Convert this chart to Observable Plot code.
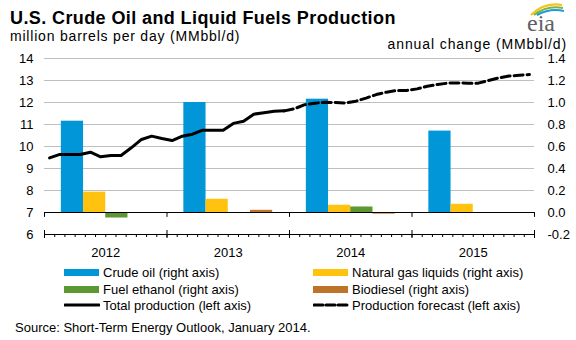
<!DOCTYPE html>
<html><head><meta charset="utf-8">
<script src="https://cdn.jsdelivr.net/npm/d3@7"></script>
<script src="https://cdn.jsdelivr.net/npm/@observablehq/plot@0.6"></script>
<style>
body{margin:0;background:#fff;font-family:Arial,"Liberation Sans",sans-serif;}
#wrap{position:relative;width:576px;height:340px;overflow:hidden;background:#fff;}
#chart{position:absolute;left:0;top:0;}
.t{position:absolute;white-space:nowrap;color:#000;line-height:1;}
.sw{position:absolute;}
</style></head><body><div id="wrap">
<div id="chart"></div>
<div class="t" style="left:10px;top:9px;font-weight:bold;font-size:18px;letter-spacing:0.4px">U.S. Crude Oil and Liquid Fuels Production</div>
<div class="t" style="left:10px;top:29px;font-size:14px;letter-spacing:0.8px">million barrels per day (MMbbl/d)</div>
<div class="t" style="right:9px;top:37px;font-size:14px;letter-spacing:0.9px">annual change (MMbbl/d)</div>
<svg style="position:absolute;left:522px;top:0px" width="54" height="36" viewBox="0 0 54 36">
  <path d="M9 15 Q22 2 40 5" fill="none" stroke="#F4C51E" stroke-width="2.2"/>
  <path d="M12 15 Q25 5 41 8" fill="none" stroke="#7CB342" stroke-width="2"/>
  <path d="M15 15 Q28 8 42 11" fill="none" stroke="#1E9BD7" stroke-width="2"/>
  <text x="5" y="31" font-family="'Liberation Serif','DejaVu Serif',serif" font-size="24" fill="#5F6062">eia</text>
</svg>
<div id="legend"></div>
<div class="t" style="left:15px;top:321px;font-size:13px">Source: Short-Term Energy Outlook, January 2014.</div>
</div>
<script>
// ---- data ----
const years = ["2012", "2013", "2014", "2015"];
const seriesNames = ["Crude oil", "Natural gas liquids", "Fuel ethanol", "Biodiesel"];
const seriesColors = ["#0096D7", "#FFC20E", "#5D9732", "#BD732A"];
// annual change, MMbbl/d (right axis)
const crudeOil = [0.83, 1.00, 1.03, 0.74];
const naturalGasLiquids = [0.185, 0.12, 0.066, 0.075];
const fuelEthanol = [-0.05, 0.0, 0.05, 0.0];
const biodiesel = [0.0, 0.02, -0.015, 0.0];
// monthly total production, MMbbl/d (left axis), Jan 2012 - Dec 2013
const totalProduction = [9.48, 9.64, 9.64, 9.64, 9.74, 9.53, 9.59, 9.59, 9.94, 10.32, 10.47, 10.36,
                         10.27, 10.47, 10.56, 10.74, 10.74, 10.74, 11.05, 11.15, 11.47, 11.53, 11.60, 11.62];
// forecast, Dec 2013 - Dec 2015
const productionForecast = [11.62,
  11.72, 11.90, 11.97, 12.01, 12.00, 11.98, 12.06, 12.20, 12.36, 12.47, 12.55, 12.55,
  12.62, 12.74, 12.82, 12.88, 12.89, 12.88, 12.88, 13.00, 13.12, 13.20, 13.24, 13.27];
const leftTicks = [6, 7, 8, 9, 10, 11, 12, 13, 14];

// ---- derived tables ----
const toLeft = v => 7 + 5 * v; // right axis (annual change) -> left axis units
const seriesValues = [crudeOil, naturalGasLiquids, fuelEthanol, biodiesel];
const barW = 12 * 0.725 / 4;
const bars = [];
years.forEach((yr, i) => seriesValues.forEach((vals, k) => {
  const x1 = i * 12 + 6 - 2 * barW + k * barW;
  bars.push({year: yr, series: seriesNames[k], value: vals[i], x1, x2: x1 + barW, color: seriesColors[k]});
}));
const totalData = totalProduction.map((v, i) => ({m: i + 0.5, v}));
const forecastData = productionForecast.map((v, i) => ({m: 23 + i + 0.5, v}));
const monthBounds = d3.range(0, 49);
const yearBounds = years.map((y, i) => i * 12).concat([48]);
const yearCenters = years.map((y, i) => i * 12 + 6);
const tickShape = {draw(ctx, l) { ctx.moveTo(0, 0); ctx.lineTo(0, -l); }};

const chart = Plot.plot({
  width: 576, height: 340,
  marginTop: 58, marginBottom: 106, marginLeft: 44, marginRight: 42,
  style: {fontFamily: "Arial, 'Liberation Sans', sans-serif", fontSize: "13px", color: "#000", background: "transparent", overflow: "visible"},
  x: {domain: [0, 48]},
  y: {domain: [6, 14]},
  marks: [
    Plot.ruleY(leftTicks.filter(d => d > 7), {stroke: "#BFBFBF", strokeWidth: 1}),
    Plot.rectY(bars, {x1: "x1", x2: "x2", y1: 7, y2: d => toLeft(d.value), fill: "color"}),
    Plot.ruleY([7, 6], {stroke: "#000", strokeWidth: 1}),
    Plot.vector(yearBounds, {x: d => d, y: 7, length: 4, rotate: 180, anchor: "start", shape: tickShape, stroke: "#000", strokeWidth: 1}),
    Plot.axisY({anchor: "left", ticks: leftTicks, tickSize: 0, tickPadding: 11, tickFormat: d => String(d), label: null}),
    Plot.axisY({anchor: "right", ticks: leftTicks, tickSize: 0, tickPadding: 13, tickFormat: d => ((d - 7) / 5).toFixed(1), label: null, textAnchor: "start"}),
    Plot.axisX({anchor: "bottom", ticks: monthBounds, tickSize: 3, tickFormat: () => "", label: null}),
    Plot.axisX({anchor: "bottom", ticks: yearBounds, tickSize: 8, dy: -4, tickFormat: () => "", label: null}),
    Plot.axisX({anchor: "bottom", ticks: yearCenters, tickSize: 0, tickPadding: 13, tickFormat: d => years[(d - 6) / 12], label: null}),
    Plot.line(totalData, {x: "m", y: "v", stroke: "#000", strokeWidth: 3}),
    Plot.line(forecastData, {x: "m", y: "v", stroke: "#000", strokeWidth: 3, strokeDasharray: "9,4"})
  ]
});
document.getElementById("chart").appendChild(chart);

// ---- legend ----
const legendItems = [
  {label: "Crude oil (right axis)", kind: "rect", color: seriesColors[0], col: 0, row: 0},
  {label: "Natural gas liquids (right axis)", kind: "rect", color: seriesColors[1], col: 1, row: 0},
  {label: "Fuel ethanol (right axis)", kind: "rect", color: seriesColors[2], col: 0, row: 1},
  {label: "Biodiesel (right axis)", kind: "rect", color: seriesColors[3], col: 1, row: 1},
  {label: "Total production (left axis)", kind: "line", color: "#000", col: 0, row: 2},
  {label: "Production forecast (left axis)", kind: "dash", color: "#000", col: 1, row: 2}
];
const legend = document.getElementById("legend");
const colX = [64, 313], rowY = [272, 289, 305];
legendItems.forEach(it => {
  const x = colX[it.col], cy = rowY[it.row];
  let sw;
  if (it.kind === "rect") {
    sw = `<div class="sw" style="left:${x}px;top:${cy - 3.5}px;width:35px;height:7px;background:${it.color}"></div>`;
  } else {
    const dash = it.kind === "dash" ? 'stroke-dasharray="9,3"' : "";
    sw = `<svg class="sw" style="left:${x}px;top:${cy - 3}px" width="36" height="6"><line x1="1" y1="3" x2="35" y2="3" stroke="${it.color}" stroke-width="3" stroke-linecap="round" ${dash}/></svg>`;
  }
  legend.insertAdjacentHTML("beforeend", sw +
    `<div class="t" style="left:${x + 39}px;top:${cy - 6.5}px;font-size:13px">${it.label}</div>`);
});
</script>
</body></html>
